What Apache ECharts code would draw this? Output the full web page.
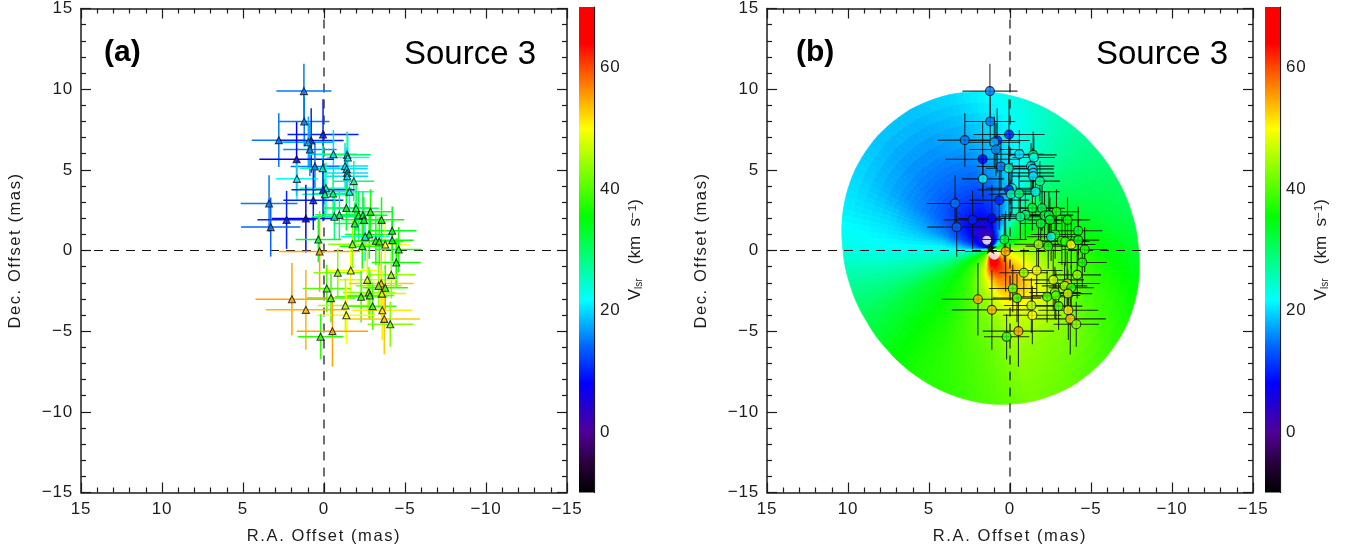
<!DOCTYPE html>
<html>
<head>
<meta charset="utf-8">
<style>html,body{margin:0;padding:0;background:#fff}#c{width:1349px;height:550px}</style>
<script src="https://cdn.jsdelivr.net/npm/echarts@6/dist/echarts.min.js"></script>
</head>
<body>
<div id="c"></div>
<script>
// ---- spot data (mas, mas, mas, km/s) ----
const raOffset = [1.24,1.22,0.06,2.79,0.79,0.97,0.87,-0.58,-1.43,-1.47,1.69,-1.30,0.56,0.08,-1.40,-1.43,-1.43,1.67,-1.84,-1.57,-0.12,0.06,-0.06,-0.56,0.66,3.39,-1.38,-1.98,-2.87,-0.95,-0.64,-2.13,-2.40,-2.46,-3.55,2.31,1.12,3.29,-1.90,-4.21,-2.79,-2.54,0.35,-3.20,-3.41,-3.78,-4.21,-1.76,-2.36,-4.61,0.27,-4.46,-1.65,-0.85,-4.15,-2.67,-3.53,-3.37,-3.78,-0.17,-2.77,-3.57,-2.83,-2.29,-0.43,1.98,-1.32,-3.00,1.12,-3.60,-1.38,-3.72,-4.09,-0.52,0.21];
const decOffset = [9.88,8.00,7.19,6.84,6.82,6.71,6.26,5.97,5.93,5.76,5.66,5.23,5.21,5.10,5.06,4.81,4.61,4.44,4.30,3.64,3.86,3.76,3.49,3.53,3.12,2.91,2.64,2.62,2.40,2.21,2.09,2.17,2.19,1.90,1.90,1.90,1.98,1.45,1.67,1.22,0.99,0.85,0.68,0.60,0.56,0.37,0.64,0.39,0.27,0.06,-0.06,-0.74,-1.24,-1.38,-1.51,-1.82,-2.05,-2.19,-2.31,-2.36,-2.60,-2.67,-2.79,-2.87,-2.95,-3.02,-3.41,-3.45,-3.68,-3.70,-4.01,-4.24,-4.57,-5.00,-5.35];
const posError = [1.7,1.55,2.19,1.67,2.0,1.6,1.65,1.5,1.45,1.3,2.3,1.43,1.5,1.4,1.3,1.3,1.3,1.3,1.25,1.5,1.6,1.95,1.4,1.3,1.85,1.75,1.4,1.4,1.4,1.5,1.4,1.5,1.5,1.4,1.4,1.8,2.1,1.83,1.3,1.5,1.5,1.5,1.4,1.5,1.5,1.5,1.3,1.5,1.4,1.4,2.5,1.5,1.6,1.5,1.47,1.9,2.0,1.4,1.4,1.47,1.6,1.5,1.5,1.6,1.5,2.25,1.7,1.47,2.47,1.85,1.8,2.2,1.4,2.2,1.4];
const velocity = [15,15,10,15,10,18,16,20,30,22,8,20,15,25,20,20,20,22,28,22,24,10,26,29,10,15,33,31,37,30,28,32,32,33,36,10,8,14,32,34,34,23,33,37,38,50,35,44,37,37,55,36,49,43,44,48,53,44,38,40,43,47,40,39,39,55,46,39,54,51,50,53,43,55,38];

// ---- colour scale ----
const scaleValues = [-10,-5,0,8,14,21.7,35.4,50,57,64,70];
const scaleColors = ['#000000','#2a0040','#500098','#0000ff','#0064ff','#00ffff','#00ff00','#ffff00','#ff8000','#ff0000','#ff0000'];
const scaleTicks = [0,20,40,60];
const scaleMin = -10, scaleMax = 70;

// ---- model velocity map (panel b), polar table around the central star ----
const starRA = 1.2, starDec = 0.15;
const mapAngles = [0,15,30,45,60,75,90,105,120,135,150,165,180,195,210,225,240,255,270,285,300,315,330,345];
const mapEdge = [9.12,8.96,8.89,8.96,9.15,9.40,9.66,9.84,9.91,9.84,9.66,9.40,9.12,8.96,8.89,8.96,9.15,9.40,9.66,9.84,9.91,9.84,9.66,9.40];
const mapRadii = [0.3,0.7,1.2,2,3,4.5,6.5];
const mapVelocity = [
 [35,42,44,44,43,40,36,33],
 [30,34,36,38,38,36,33,31],
 [22,28,30,33,34,33,31,30],
 [14,20,28,30,31,30,29,28],
 [8,10,20,22,24,25,26,26],
 [4,8,12,14,17,20,22,24],
 [3,2,6,10,12,16,19,22],
 [2,1,4,8,11,14,17,20],
 [2,2,4,8,11,14,16,19],
 [2,3,5,8,11,14,16,19],
 [3,5,8,10,13,15,17,20],
 [5,8,10,13,16,18,20,21],
 [8,12,17,20,22,22,22,23],
 [20,25,27,27,27,27,27,27.5],
 [30,33,35,34,33,33,32,31],
 [36,38,38,37,36,35,35,34.5],
 [42,42,42,40,38,37,37,37],
 [50,50,48,45,42,40,39,38],
 [60,66,62,52,46,43,41,40],
 [62,68,64,57,52,46,44,42],
 [60,66,62,58,54,48,43,41],
 [55,60,58,56,53,48,43,39],
 [48,52,53,52,49,45,40,37],
 [42,46,50,48,46,42,38,35]
];
const whiteRA = [1.43,0.97], whiteDec = [0.64,-0.23], whiteSize = [9,11];

// ---- ticks / text ----
const axisLimit = 15, axisStep = 5;
const xTitle = 'R.A. Offset (mas)', yTitle = 'Dec. Offset (mas)';
const panelLabels = ['(a)','(b)'], sourceLabel = 'Source 3';

const INK = '#1c1c1c', FONT = '"Liberation Sans", Helvetica, Arial, sans-serif';

// the reference sets its small text with open letter spacing
const baseFill = CanvasRenderingContext2D.prototype.fillText;
CanvasRenderingContext2D.prototype.fillText = function(t,x,y,m){
  const s = String(t);
  const sp = (s===xTitle||s===yTitle) ? '1.6px' : (/^[\u2212\d]+$/.test(s)&&s!=='3' ? '0.8px' : '0px');
  this.letterSpacing = sp;
  const r = m===undefined ? baseFill.call(this,t,x,y) : baseFill.call(this,t,x,y,m);
  this.letterSpacing = '0px';
  return r;
};

function vColor(v){
  v = Math.max(scaleMin, Math.min(scaleMax, v));
  for(let i=1;i<scaleValues.length;i++){
    if(v<=scaleValues[i]){
      const t=(v-scaleValues[i-1])/(scaleValues[i]-scaleValues[i-1]);
      const a=scaleColors[i-1], b=scaleColors[i];
      const ch=(s,k)=>parseInt(s.substr(1+2*k,2),16);
      return 'rgb('+[0,1,2].map(k=>Math.round(ch(a,k)+(ch(b,k)-ch(a,k))*t)).join(',')+')';
    }
  }
  return scaleColors[scaleColors.length-1];
}
const spots = raOffset.map((x,i)=>[x,decOffset[i],posError[i],velocity[i]]);
const fmt = v => String(v).replace('-','\u2212');

function posAxis(extra){
  return Object.assign({type:'value',min:-axisLimit,max:axisLimit,interval:axisStep,
    splitLine:{show:false},minorSplitLine:{show:false},
    axisLine:{onZero:false,lineStyle:{color:INK,width:1.5}},
    axisTick:{inside:true,length:10,lineStyle:{color:INK,width:1.2}},
    minorTick:{show:true,splitNumber:5,length:5,lineStyle:{color:INK,width:1.2}},
    axisLabel:{show:false}},extra);
}
const labelStyle={show:true,color:INK,fontFamily:FONT,fontSize:17,formatter:fmt,margin:8,showMinLabel:true,showMaxLabel:true};
const nameStyle={color:INK,fontFamily:FONT,fontSize:16.5};

const grids=[],xAxes=[],yAxes=[],series=[],graphics=[];

function addPanel(left,barLeft,isB,labelX,srcX){
  const g=grids.length;
  grids.push({left:left,width:486,top:6,height:486.5,containLabel:false});
  grids.push({left:barLeft,width:15,top:7,height:485.5,containLabel:false});
  const x0=xAxes.length, y0=yAxes.length;
  xAxes.push(posAxis({gridIndex:g,position:'bottom',inverse:true,axisLabel:labelStyle,name:xTitle,nameLocation:'middle',nameGap:35,nameTextStyle:nameStyle}));
  xAxes.push(posAxis({gridIndex:g,position:'top',inverse:true}));
  xAxes.push({type:'value',gridIndex:g+1,min:0,max:1,show:false});
  yAxes.push(posAxis({gridIndex:g,position:'left',axisLabel:labelStyle,name:yTitle,nameLocation:'middle',nameGap:57,nameTextStyle:nameStyle}));
  yAxes.push(posAxis({gridIndex:g,position:'right'}));
  yAxes.push({type:'value',gridIndex:g+1,position:'right',min:scaleMin,max:scaleMax,interval:10,splitLine:{show:false},
    axisLine:{show:true,onZero:false,lineStyle:{color:INK,width:1.2}},
    axisTick:{show:true,inside:true,length:7,customValues:scaleTicks,lineStyle:{color:INK,width:1.2}},
    axisLabel:{show:true,customValues:scaleTicks,color:INK,fontFamily:FONT,fontSize:17,margin:6,formatter:fmt},
    name:'{v|V}{s|lsr}{v|   (km  s}{t|\u22121}{v|)}',nameLocation:'middle',nameGap:27,nameRotate:90,
    nameTextStyle:{rich:{v:{fontFamily:FONT,fontSize:17,color:INK,height:20,lineHeight:20},
      s:{fontFamily:FONT,fontSize:10,color:INK,height:20,lineHeight:26,verticalAlign:'bottom'},
      t:{fontFamily:FONT,fontSize:11.5,color:INK,height:20,lineHeight:12,verticalAlign:'top'}}}});

  const ax={xAxisIndex:x0,yAxisIndex:y0};
  // colour bar
  series.push({type:'custom',xAxisIndex:x0+2,yAxisIndex:y0+2,silent:true,data:[[0,scaleMin,1,scaleMax]],
    renderItem(p,api){
      const a=api.coord([api.value(0),api.value(3)]), b=api.coord([api.value(2),api.value(1)]);
      return {type:'rect',shape:{x:a[0],y:a[1],width:b[0]-a[0],height:b[1]-a[1]},
        style:{fill:new echarts.graphic.LinearGradient(0,0,0,1,
          scaleValues.map((v,i)=>({offset:(scaleMax-v)/(scaleMax-scaleMin),color:scaleColors[i]})))}};
    }});

  if(isB){
    const cells=[];
    mapAngles.forEach((_,a)=>{for(let r=-1;r<mapRadii.length;r++)cells.push([a,r]);});
    const radiusAt=(a,r)=>r<0?0:(r<mapRadii.length?mapRadii[r]:mapEdge[a]);
    const valueAt=(a,r)=>mapVelocity[a][Math.max(r,0)];
    const NA=6,NR=5;
    series.push(Object.assign({type:'custom',silent:true,z:1,data:cells,
      renderItem(p,api){
        const a=api.value(0), r=api.value(1), a2=(a+1)%mapAngles.length, th0=mapAngles[a];
        const pt=(u,w)=>{
          const rad=(radiusAt(a,r)*(1-u)+radiusAt(a2,r)*u)*(1-w)+(radiusAt(a,r+1)*(1-u)+radiusAt(a2,r+1)*u)*w;
          const th=(th0+15*u)*Math.PI/180;
          return api.coord([starRA-rad*Math.cos(th),starDec+rad*Math.sin(th)]);
        };
        const val=(u,w)=>(valueAt(a,r)*(1-u)+valueAt(a2,r)*u)*(1-w)+(valueAt(a,r+1)*(1-u)+valueAt(a2,r+1)*u)*w;
        const kids=[];
        for(let i=0;i<NA;i++)for(let j=0;j<NR;j++){
          const c=vColor(val((i+.5)/NA,(j+.5)/NR));
          kids.push({type:'polygon',shape:{points:[pt(i/NA,j/NR),pt((i+1)/NA,j/NR),pt((i+1)/NA,(j+1)/NR),pt(i/NA,(j+1)/NR)]},
            style:{fill:c,stroke:c,lineWidth:0.8}});
        }
        return {type:'group',children:kids};
      }},ax));
    series.push(Object.assign({type:'scatter',silent:true,z:2,symbol:'circle',
      data:whiteRA.map((x,i)=>[x,whiteDec[i],whiteSize[i]]),symbolSize:d=>d[2],itemStyle:{color:'#fff'}},ax));
  }
  // dashed reference lines
  const dash={color:'#111',width:1.2,type:[9,7]};
  series.push(Object.assign({type:'line',silent:true,z:3,symbol:'none',lineStyle:dash,data:[[-axisLimit,0],[axisLimit,0]]},ax));
  series.push(Object.assign({type:'line',silent:true,z:3,symbol:'none',lineStyle:dash,data:[[0,-axisLimit],[0,axisLimit]]},ax));
  // error crosses
  series.push(Object.assign({type:'custom',silent:true,z:4,data:spots,
    renderItem(p,api){
      const x=api.value(0),y=api.value(1),e=api.value(2);
      const st=isB?{stroke:'#111',lineWidth:1.1,opacity:.85}:{stroke:vColor(api.value(3)),lineWidth:1.5};
      const a=api.coord([x-e,y]),b=api.coord([x+e,y]),c=api.coord([x,y-e]),d=api.coord([x,y+e]);
      return {type:'group',children:[
        {type:'line',shape:{x1:a[0],y1:a[1],x2:b[0],y2:b[1]},style:st},
        {type:'line',shape:{x1:c[0],y1:c[1],x2:d[0],y2:d[1]},style:st}]};
    }},ax));
  // maser spots
  series.push(Object.assign({type:'scatter',silent:true,z:5,data:spots,
    symbol:isB?'circle':'triangle',symbolSize:isB?9:7,
    itemStyle:{color:p=>vColor(p.value[3]),borderColor:'#111',borderWidth:1.1}},ax));
  if(isB){
    series.push(Object.assign({type:'scatter',silent:true,z:6,symbol:'path://M50 0 L62 36 L100 36 L69 59 L81 96 L50 73 L19 96 L31 59 L0 36 L38 36 Z',symbolSize:13,
      data:[[starRA,starDec]],itemStyle:{color:'#000'}},ax));
  }
  graphics.push({type:'text',left:labelX,top:38,style:{text:panelLabels[isB?1:0],fontFamily:FONT,fontWeight:'bold',fontSize:30,fill:'#000'}});
  graphics.push({type:'text',left:srcX,top:38,style:{text:sourceLabel,fontFamily:FONT,fontSize:33,fill:'#000'}});
}
addPanel(81,579,false,104,404);
addPanel(767,1265,true,796,1096);

const chart=echarts.init(document.getElementById('c'),null,{renderer:'canvas'});
chart.setOption({animation:false,backgroundColor:'#fff',grid:grids,xAxis:xAxes,yAxis:yAxes,series:series,graphic:graphics});
</script>
</body>
</html>
